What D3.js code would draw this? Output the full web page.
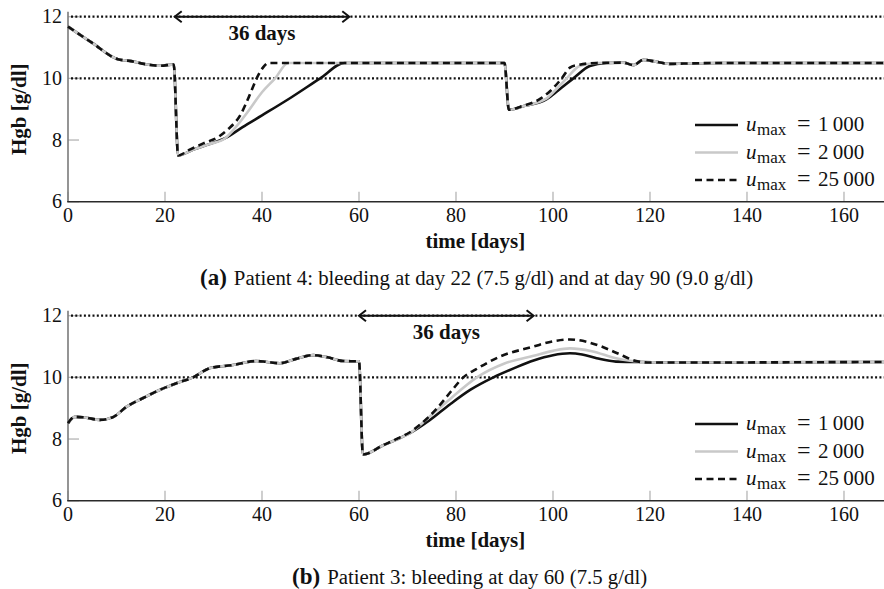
<!DOCTYPE html>
<html>
<head>
<meta charset="utf-8">
<script src="https://cdn.jsdelivr.net/npm/d3@7"></script>
<style>
  html, body { margin: 0; padding: 0; background: #fff; }
  svg { display: block; }
</style>
</head>
<body>
<svg id="chart" width="884" height="589" font-family="'Liberation Serif', 'Times New Roman', serif"></svg>
<script>
// Hemoglobin trajectories [day, g/dl] for three maximum dose limits.
// Patient 4: bleeding at day 22 and at day 90
const p4_u1000 = [
  [0, 11.68], [5, 11.15], [10.3, 10.62], [13, 10.56], [16, 10.46], [19, 10.41], [21.8, 10.45],
  [22.7, 7.5], [26, 7.7], [29, 7.86], [32.4, 8.06], [36, 8.42], [40, 8.8], [46, 9.38], [52, 10.0],
  [57, 10.5], [60, 10.5], [75, 10.5], [90, 10.5],
  [90.9, 8.98], [94, 9.1], [98.7, 9.33], [101, 9.6], [104.2, 10.0], [107.6, 10.4], [111, 10.5],
  [114.5, 10.51], [116.6, 10.43], [118.6, 10.6], [121, 10.55], [124, 10.47], [127, 10.48],
  [135, 10.5], [168.25, 10.5]
];
const p4_u2000 = [
  [0, 11.68], [5, 11.15], [10.3, 10.62], [13, 10.56], [16, 10.46], [19, 10.41], [21.8, 10.45],
  [22.7, 7.5], [26, 7.7], [29, 7.86], [32.4, 8.06], [34.5, 8.4], [37, 8.9], [40, 9.55], [42.7, 10.0],
  [45.4, 10.5], [60, 10.5], [75, 10.5], [90, 10.5],
  [90.9, 8.98], [94, 9.1], [98.7, 9.35], [101, 9.7], [102.8, 10.0], [105.5, 10.4], [109, 10.5],
  [114.5, 10.51], [116.6, 10.43], [118.6, 10.6], [121, 10.55], [124, 10.47], [127, 10.48],
  [135, 10.5], [168.25, 10.5]
];
const p4_u25000 = [
  [0, 11.68], [5, 11.15], [10.3, 10.62], [13, 10.56], [16, 10.46], [19, 10.41], [21.8, 10.45],
  [22.7, 7.5], [25, 7.68], [28, 7.9], [31, 8.1], [33, 8.35], [35.5, 8.8], [37.3, 9.4], [38.9, 10.0],
  [40.2, 10.35], [41.3, 10.5], [60, 10.5], [75, 10.5], [90, 10.5],
  [90.9, 8.98], [94, 9.12], [97, 9.3], [99.5, 9.6], [101.8, 10.0], [103.5, 10.35], [105, 10.43],
  [109, 10.5], [114.5, 10.51], [116.6, 10.43], [118.6, 10.6], [121, 10.55], [124, 10.47],
  [127, 10.48], [135, 10.5], [168.25, 10.5]
];

// Patient 3: bleeding at day 60
const p3_u1000 = [
  [0, 8.51], [1.4, 8.72], [3.5, 8.7], [6.6, 8.62], [9.4, 8.72], [12.1, 9.05], [15.5, 9.33],
  [19, 9.6], [22.5, 9.82], [25.8, 10.0], [29.3, 10.3], [34, 10.4], [38.9, 10.53], [41, 10.5],
  [43.7, 10.46], [47, 10.6], [50.6, 10.72], [53.5, 10.65], [56.7, 10.53], [60, 10.52],
  [60.8, 7.5], [65, 7.8], [68, 8.0], [70.5, 8.19], [74.5, 8.6], [78.8, 9.13], [83, 9.6],
  [87.7, 10.0], [92, 10.3], [96, 10.55], [100, 10.72], [103.5, 10.78], [106, 10.74],
  [109, 10.62], [113, 10.51], [118.6, 10.5], [125, 10.48], [168.25, 10.5]
];
const p3_u2000 = [
  [0, 8.51], [1.4, 8.72], [3.5, 8.7], [6.6, 8.62], [9.4, 8.72], [12.1, 9.05], [15.5, 9.33],
  [19, 9.6], [22.5, 9.82], [25.8, 10.0], [29.3, 10.3], [34, 10.4], [38.9, 10.53], [41, 10.5],
  [43.7, 10.46], [47, 10.6], [50.6, 10.72], [53.5, 10.65], [56.7, 10.53], [60, 10.52],
  [60.8, 7.5], [65, 7.8], [68, 8.0], [70.5, 8.19], [74, 8.65], [78.8, 9.3], [84.3, 10.0],
  [90, 10.45], [96, 10.7], [100, 10.86], [103.5, 10.94], [108, 10.85], [113, 10.62],
  [118.6, 10.5], [125, 10.48], [168.25, 10.5]
];
const p3_u25000 = [
  [0, 8.51], [1.4, 8.72], [3.5, 8.7], [6.6, 8.62], [9.4, 8.72], [12.1, 9.05], [15.5, 9.33],
  [19, 9.6], [22.5, 9.82], [25.8, 10.0], [29.3, 10.3], [34, 10.4], [38.9, 10.53], [41, 10.5],
  [43.7, 10.46], [47, 10.6], [50.6, 10.72], [53.5, 10.65], [56.7, 10.53], [60, 10.52],
  [60.8, 7.5], [65, 7.8], [68, 8.02], [70.5, 8.22], [73, 8.52], [76, 8.98], [79, 9.55],
  [81.5, 10.0], [84, 10.25], [89, 10.67], [96, 11.0], [100, 11.17], [103.5, 11.23],
  [107, 11.15], [110, 11.0], [113, 10.8], [117.7, 10.51], [120, 10.48], [168.25, 10.5]
];

const xTicks = [0, 20, 40, 60, 80, 100, 120, 140, 160];
const yTicks = [6, 8, 10, 12];
const limitLines = [10, 12];
const seriesNames = ["1\u2009000", "2\u2009000", "25\u2009000"];
const xDomain = [0, 168.25];
const yDomain = [6, 12];

const styles = [
  { stroke: "#111", width: 2.6, dash: null },
  { stroke: "#c9c9c9", width: 2.6, dash: null },
  { stroke: "#111", width: 2.6, dash: "7,4.5" }
];

const panels = [
  {
    top: 16.7, bottom: 201.7,
    series: [p4_u1000, p4_u2000, p4_u25000],
    arrow: [22, 58], arrowLabelX: 40,
    caption: "Patient 4: bleeding at day 22 (7.5 g/dl) and at day 90 (9.0 g/dl)",
    tag: "(a)", captionX: 200, captionY: 285,
    legendY: 125
  },
  {
    top: 315.7, bottom: 500.7,
    series: [p3_u1000, p3_u2000, p3_u25000],
    arrow: [60, 96], arrowLabelX: 78,
    caption: "Patient 3: bleeding at day 60 (7.5 g/dl)",
    tag: "(b)", captionX: 292, captionY: 584,
    legendY: 424
  }
];

const svg = d3.select("#chart");
const left = 68, right = 884;
const x = d3.scaleLinear().domain(xDomain).range([left, right]);

panels.forEach(p => {
  const y = d3.scaleLinear().domain(yDomain).range([p.bottom, p.top]);
  const g = svg.append("g").attr("fill", "#111");

  // tick marks pointing into the plot
  g.selectAll(".xt").data(xTicks).join("line")
    .attr("x1", d => x(d)).attr("x2", d => x(d))
    .attr("y1", p.bottom).attr("y2", p.bottom - 10)
    .attr("stroke", "#b5b5b5").attr("stroke-width", 1.3);
  g.selectAll(".yt").data(yTicks).join("line")
    .attr("x1", left).attr("x2", left + 11)
    .attr("y1", d => y(d)).attr("y2", d => y(d))
    .attr("stroke", "#b5b5b5").attr("stroke-width", 1.3);

  // axis lines
  g.append("line").attr("x1", left).attr("x2", left)
    .attr("y1", p.bottom).attr("y2", y(12) - 5)
    .attr("stroke", "#7a7a7a").attr("stroke-width", 1.6);
  g.append("line").attr("x1", left - 0.8).attr("x2", right)
    .attr("y1", p.bottom).attr("y2", p.bottom)
    .attr("stroke", "#2a2a2a").attr("stroke-width", 1.6);

  // tick labels
  g.selectAll(".xl").data(xTicks).join("text")
    .attr("x", d => x(d)).attr("y", p.bottom + 20.5)
    .attr("text-anchor", "middle").attr("font-size", 20)
    .text(d => d);
  g.selectAll(".yl").data(yTicks).join("text")
    .attr("x", left - 6).attr("y", d => y(d) + 6.5)
    .attr("text-anchor", "end").attr("font-size", 20)
    .text(d => d);

  // axis titles
  g.append("text").attr("x", x(84)).attr("y", p.bottom + 46.5)
    .attr("text-anchor", "middle").attr("font-size", 21).attr("font-weight", "bold")
    .text("time [days]");
  g.append("text")
    .attr("transform", `translate(26,${(p.top + p.bottom) / 2}) rotate(-90)`)
    .attr("text-anchor", "middle").attr("font-size", 21).attr("font-weight", "bold")
    .text("Hgb [g/dl]");

  // reference levels
  g.selectAll(".lim").data(limitLines).join("line")
    .attr("x1", left + 3).attr("x2", right)
    .attr("y1", d => y(d)).attr("y2", d => y(d))
    .attr("stroke", "#111").attr("stroke-width", 2.2)
    .attr("stroke-dasharray", "2,2.3");

  // trajectories
  const line = d3.line().x(d => x(d[0])).y(d => y(d[1])).curve(d3.curveMonotoneX);
  p.series.forEach((s, i) => {
    g.append("path").datum(s)
      .attr("d", line)
      .attr("fill", "none")
      .attr("stroke", styles[i].stroke)
      .attr("stroke-width", styles[i].width)
      .attr("stroke-dasharray", styles[i].dash)
      .attr("stroke-linejoin", "round");
  });

  // 36-day span arrow
  const ax1 = x(p.arrow[0]), ax2 = x(p.arrow[1]), ay = y(12);
  g.append("line").attr("x1", ax1 + 1).attr("x2", ax2 - 1)
    .attr("y1", ay).attr("y2", ay)
    .attr("stroke", "#111").attr("stroke-width", 2);
  g.append("path")
    .attr("d", `M${ax1 + 7},${ay - 5.5} L${ax1},${ay} L${ax1 + 7},${ay + 5.5}`)
    .attr("fill", "none").attr("stroke", "#111").attr("stroke-width", 2);
  g.append("path")
    .attr("d", `M${ax2 - 7},${ay - 5.5} L${ax2},${ay} L${ax2 - 7},${ay + 5.5}`)
    .attr("fill", "none").attr("stroke", "#111").attr("stroke-width", 2);
  g.append("text").attr("x", x(p.arrowLabelX)).attr("y", ay + 23)
    .attr("text-anchor", "middle").attr("font-size", 21).attr("font-weight", "bold")
    .text(`${p.arrow[1] - p.arrow[0]} days`);

  // legend: line sample, then u_max = value in math style
  seriesNames.forEach((name, i) => {
    const ly = p.legendY + i * 27.5;
    g.append("line").attr("x1", 695).attr("x2", 738)
      .attr("y1", ly).attr("y2", ly)
      .attr("stroke", styles[i].stroke).attr("stroke-width", styles[i].width)
      .attr("stroke-dasharray", styles[i].dash);
    const t = g.append("text").attr("y", ly + 6).attr("font-size", 21);
    t.append("tspan").attr("x", 746).attr("font-style", "italic").text("u");
    t.append("tspan").attr("x", 757).attr("font-size", 17).attr("dy", 4).text("max");
    t.append("tspan").attr("x", 797).attr("dy", -4).attr("font-size", 24).text("=");
    t.append("tspan").attr("x", 818).text(name);
  });

  // caption
  const c = svg.append("text").attr("x", p.captionX).attr("y", p.captionY).attr("fill", "#111");
  c.append("tspan").attr("font-size", 23).attr("font-weight", "bold").text(p.tag);
  c.append("tspan").attr("font-size", 20.8).attr("dx", 7).text(p.caption);
});
</script>
</body>
</html>
